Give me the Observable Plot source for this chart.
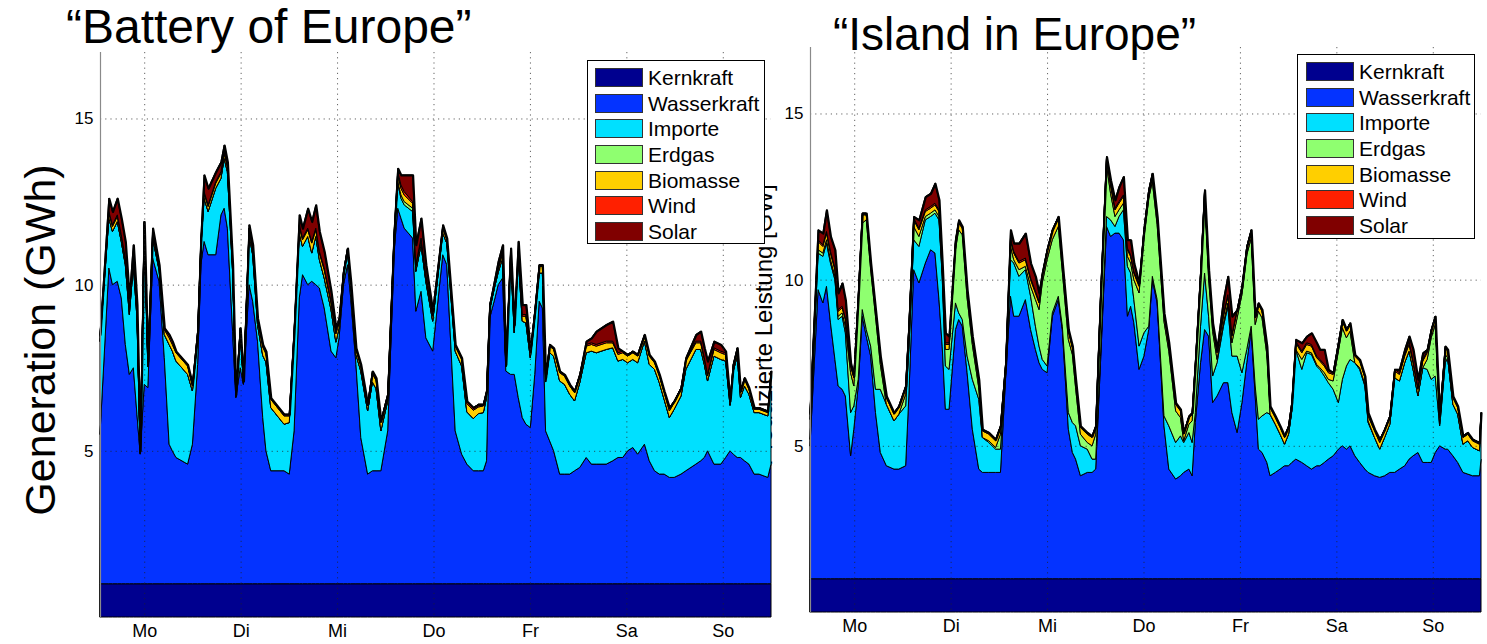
<!DOCTYPE html>
<html><head><meta charset="utf-8">
<script src="https://cdn.jsdelivr.net/npm/d3@7"></script>
<script src="https://cdn.jsdelivr.net/npm/@observablehq/plot@0.6"></script>
<style>
body{margin:0;background:#fff;font-family:"Liberation Sans",Arial,Helvetica,sans-serif;color:#000;}
#root{position:relative;width:1487px;height:644px;overflow:hidden;background:#fff;}
.abs{position:absolute;}
.title{white-space:nowrap;z-index:3;}
.rot{white-space:nowrap;transform:translate(-50%,-50%) rotate(-90deg);}
.legend{border:1px solid #000;background:#fff;box-sizing:border-box;z-index:3;padding-top:4px;}
.row{display:flex;align-items:center;height:25.6px;}
.sw{width:48px;height:19px;border:1px solid #333;box-sizing:border-box;}
.lt{font-size:21px;margin-left:5px;line-height:21px;}
</style></head>
<body><div id="root"></div>
<script>
// ---------- shared ----------
const seriesNames = ["Kernkraft","Wasserkraft","Importe","Erdgas","Biomasse","Wind","Solar"];
const seriesColors = ["#00008f","#0433ff","#00e0ff","#8fff70","#ffcf00","#ff2000","#800000"];
const dayTicks = [12,36,60,84,108,132,156];
const dayLabels = ["Mo","Di","Mi","Do","Fr","Sa","So"];
const yTicks = [5,10,15];
const titles = ["\u201cBattery of Europe\u201d","\u201cIsland in Europe\u201d"];
const yLabel = "Generation (GWh)";
const hiddenYLabel = "Produzierte Leistung [GW]";

// ---------- left panel: "Battery of Europe" ----------
const hoursL = [
1,3.2,4.1,5.3,6.3,7.3,8.3,9.3,10.2,11.0,
12.0,12.9,14.1,15.7,17.0,18.2,19.0,19.9,22.8,24.0,
25.3,26.1,26.9,27.9,29.8,31.1,31.9,32.7,34.0,34.8,
35.9,36.7,38.1,39.0,40.2,41.5,42.3,43.5,46.8,48.1,
49.3,50.6,51.4,52.7,53.7,54.7,55.6,56.8,58.5,59.7,
60.5,61.6,62.6,63.4,64.7,65.9,67.6,68.8,69.7,70.9,
72.6,74.2,75.1,75.9,76.7,78.8,79.6,80.9,82.1,83.8,
86.3,87.3,89.4,91.0,92.3,93.9,95.2,96.4,97.2,98.0,
99.3,100.1,101.2,102.0,103.2,104.1,105.1,106.1,107.0,108.1,
109.2,110.3,111.1,111.9,112.9,113.9,115.4,116.6,117.9,119.1,
120.4,122.0,123.3,124.5,127.0,128.6,129.9,131.1,132.3,133.6,
134.8,136.5,137.7,139.0,140.2,141.4,142.7,143.9,145.6,146.8,
149.3,150.5,151.4,152.2,153.8,155.5,156.7,157.8,158.6,159.6,
160.4,161.4,162.5,163.8,165.0,167.2,168];
const kernL = [
1,1,1,1,1,1,1,1,1,1, 1,1,1,1,1,1,1,1,1,1, 1,1,1,1,1,1,1,1,1,1,
1,1,1,1,1,1,1,1,1,1, 1,1,1,1,1,1,1,1,1,1, 1,1,1,1,1,1,1,1,1,1,
1,1,1,1,1,1,1,1,1,1, 1,1,1,1,1,1,1,1,1,1, 1,1,1,1,1,1,1,1,1,1,
1,1,1,1,1,1,1,1,1,1, 1,1,1,1,1,1,1,1,1,1, 1,1,1,1,1,1,1,1,1,1,
1,1,1,1,1,1,1,1,1,1, 1,1,1,1,1,1,1];
const wasserL = [
4.5,9.5,9.0,9.1,8.6,7.2,6.3,6.5,5.1,3.9,
6.0,5.9,9.8,9.1,6.8,4.2,4.0,3.8,3.6,4.2,
6.6,9.6,10.3,9.9,9.9,11.1,11.3,10.7,7.6,5.6,
6.5,6.0,9.0,8.5,7.3,5.0,4.0,3.4,3.4,3.3,
4.6,8.6,9.3,9.0,9.1,9.0,8.9,8.3,7.0,6.8,
7.4,9.0,9.6,8.6,6.6,4.4,3.3,3.4,3.4,3.4,
4.6,10.0,11.3,11.0,10.7,10.4,8.2,8.8,7.4,7.0,
9.9,9.6,4.6,3.9,3.6,3.4,3.4,3.4,3.7,8.0,
8.6,9.0,9.2,6.4,6.3,6.3,5.6,5.0,4.8,4.7,
6.3,8.5,8.3,4.6,4.3,4.0,3.3,3.3,3.3,3.4,
3.5,3.8,3.6,3.6,3.6,3.7,3.8,3.8,4.0,4.1,
3.9,4.2,3.7,3.4,3.3,3.3,3.2,3.2,3.3,3.4,
3.6,3.7,3.8,4.0,3.6,3.6,3.8,4.0,3.9,3.8,
3.8,3.7,3.6,3.3,3.3,3.2,3.6];
const importeL = [
2.8,1.5,1.6,1.8,1.7,2.4,1.8,3.1,2.9,0.03,
4.7,0.63,0.6,0.35,0.7,3.0,3.0,2.9,2.7,1.6,
0.8,0.5,1.3,1.3,2.0,1.1,1.5,1.7,1.8,0.03,
1.05,0.03,1.5,1.4,0.5,1.87,2.67,1.9,1.4,1.55,
2.8,1.95,0.85,1.45,0.85,1.45,0.85,0.9,1.25,0.47,
0.3,0.27,0.37,0.37,0.3,2.0,1.9,2.67,2.47,1.2,
0.9,0.35,0.75,0.6,0.7,0.8,1.2,1.4,1.7,0.9,
0.65,0.65,2.4,2.65,1.57,1.57,1.72,1.75,1.9,0.27,
0.37,0.37,0.6,0.13,3.5,1.25,4.2,2.9,3.05,2.1,
1.7,0.85,1.05,1.47,2.65,2.85,2.8,2.7,2.4,2.1,
2.55,3.15,3.4,3.35,3.45,3.4,2.9,2.95,2.65,2.65,
2.75,3.1,2.9,3.05,2.75,2.25,1.8,2.05,2.35,3.05,
3.45,3.35,2.8,2.1,3.25,3.15,2.9,1.37,2.5,3.05,
1.8,2.25,2.1,1.85,1.85,1.85,2.65];
const erdgasL = [
0,0,0,0,0,0,0,0,0,0, 0,0,0,0,0,0,0,0,0,0, 0,0,0,0,0,0,0,0,0,0,
0,0,0,0,0,0,0,0,0,0, 0,0,0,0,0,0,0,0,0,0, 0,0,0,0,0,0,0,0,0,0,
0,0,0.05,0.1,0.1,0.1,0,0,0,0,
0,0,0,0,0,0,0,0,0,0, 0,0,0,0,0,0,0,0,0,0, 0,0,0,0,0,0,0,0,0,0,
0,0,0,0,0,0,0,0,0,0, 0,0,0,0,0,0,0,0,0,0, 0,0,0,0,0,0,0,0,0,0,
0,0,0,0,0,0,0];
const biomasseL = [
0.15,0.15,0.15,0.15,0.15,0.15,0.15,0.15,0.15,0.05,
0.15,0.12,0.15,0.12,0.15,0.2,0.2,0.25,0.25,0.15,
0.15,0.15,0.15,0.15,0.15,0.15,0.15,0.15,0.15,0.05,
0.1,0.05,0.15,0.15,0.15,0.25,0.25,0.25,0.25,0.2,
0.15,0.2,0.2,0.2,0.3,0.2,0.2,0.25,0.2,0.25,
0.15,0.1,0.1,0.1,0.15,0.15,0.15,0.25,0.25,0.25,
0.15,0.15,0.2,0.2,0.2,0.15,0.15,0.15,0.15,0.15,
0.15,0.1,0.15,0.2,0.25,0.25,0.2,0.2,0.15,0.1,
0.1,0.1,0.15,0.05,0.15,0.15,0.15,0.15,0.2,0.15,
0.15,0.2,0.2,0.1,0.2,0.2,0.25,0.25,0.25,0.25,
0.2,0.2,0.2,0.2,0.2,0.15,0.2,0.2,0.2,0.2,
0.2,0.15,0.25,0.2,0.2,0.2,0.2,0.2,0.2,0.25,
0.2,0.2,0.15,0.15,0.2,0.2,0.2,0.1,0.15,0.2,
0.15,0.2,0.15,0.1,0.1,0.1,0.1];
const windL = [
0.05,0.05,0.05,0.05,0.05,0.05,0.05,0.05,0.05,0.02,
0.05,0.05,0.05,0.03,0.05,0.1,0.1,0.05,0.05,0.05,
0.05,0.05,0.05,0.05,0.05,0.05,0.05,0.05,0.05,0.02,
0.05,0.02,0.05,0.05,0.05,0.08,0.08,0.05,0.05,0.05,
0.05,0.05,0.05,0.05,0.05,0.05,0.05,0.05,0.05,0.08,
0.05,0.03,0.03,0.03,0.05,0.05,0.05,0.08,0.08,0.05,
0.05,0.05,0.1,0.1,0.1,0.05,0.05,0.05,0.05,0.05,
0.05,0.05,0.05,0.05,0.08,0.08,0.08,0.05,0.05,0.03,
0.03,0.03,0.05,0.02,0.05,0.05,0.05,0.05,0.05,0.05,
0.05,0.05,0.05,0.03,0.05,0.05,0.05,0.05,0.05,0.05,
0.05,0.05,0.05,0.05,0.05,0.05,0.05,0.05,0.05,0.05,
0.05,0.05,0.05,0.05,0.05,0.05,0.1,0.05,0.05,0.05,
0.05,0.05,0.05,0.05,0.05,0.05,0.05,0.03,0.05,0.05,
0.05,0.05,0.05,0.05,0.05,0.05,0.05];
const solarL = [
0,0.4,0.4,0.5,0.5,0.5,0.3,0.4,0.2,0,
0,0,0.1,0,0,0,0,0,0,0,
0,0.1,0.5,0.5,0.3,0.3,0.2,0.1,0,0,
0,0,0.1,0.1,0,0,0,0,0,0,
0,0.3,0.3,0.6,0.6,0.7,0.6,0.5,0.3,0.1,
0.1,0,0,0,0,0,0,0,0,0,
0,0.05,0.1,0.3,0.5,0.8,0.6,0.6,0.3,0.1,
0.05,0,0,0,0,0,0,0,0,0,
0.1,0.2,0.2,0,0.1,0.05,0.3,0.3,0.3,0,
0,0,0,0,0,0,0,0,0,0,
0,0.1,0.15,0.4,0.5,0.6,0.15,0,0,0,
0,0,0,0,0,0,0,0,0,0.05,
0.2,0.3,0.3,0.4,0.2,0.2,0.05,0,0,0,
0,0,0,0,0,0,0];

// ---------- right panel: "Island in Europe" ----------
const hoursR = [
1,3.0,4.2,5.1,6.1,7.2,8.0,9.0,9.8,11.1,
11.9,13.0,14.0,15.0,16.1,17.3,18.5,20.0,21.9,23.1,
24.8,25.6,26.8,28.1,29.7,31.0,32.1,33.1,33.9,34.7,
35.6,37.2,38.0,38.9,40.1,41.4,43.0,43.9,45.5,47.2,
48.4,49.7,50.9,51.7,53.0,54.6,55.9,57.1,58.0,58.8,
60.0,61.3,62.8,63.8,65.3,66.3,67.1,68.3,70.0,71.2,
72.1,73.3,74.8,75.8,76.9,77.9,79.0,80.0,80.8,81.6,
82.9,84.1,85.3,86.2,87.4,89.1,90.3,92.0,93.2,94.0,
95.3,96.1,96.9,98.2,99.2,100.2,101.2,102.3,103.9,105.0,
106.0,107.3,108.5,109.7,110.8,111.8,112.6,113.5,114.7,115.5,
116.8,118.0,119.1,120.1,120.9,121.9,123.4,124.6,125.8,127.1,
127.9,129.0,130.0,131.2,132.5,133.5,134.5,135.4,136.6,137.8,
139.1,139.9,141.5,142.8,144.0,145.3,146.5,147.7,149.0,150.1,
151.1,152.3,153.5,154.6,155.6,156.6,157.7,159.1,159.7,161.0,
162.2,163.5,164.7,165.9,167.6,168];
const kernR = [
1,1,1,1,1,1,1,1,1,1, 1,1,1,1,1,1,1,1,1,1, 1,1,1,1,1,1,1,1,1,1,
1,1,1,1,1,1,1,1,1,1, 1,1,1,1,1,1,1,1,1,1, 1,1,1,1,1,1,1,1,1,1,
1,1,1,1,1,1,1,1,1,1, 1,1,1,1,1,1,1,1,1,1, 1,1,1,1,1,1,1,1,1,1,
1,1,1,1,1,1,1,1,1,1, 1,1,1,1,1,1,1,1,1,1, 1,1,1,1,1,1,1,1,1,1,
1,1,1,1,1,1,1,1,1,1, 1,1,1,1,1,1,1,1,1,1, 1,1,1,1,1,1];
const wasserR = [
4.0,8.7,8.3,8.8,7.7,6.6,5.8,5.7,5.5,3.7,
4.5,5.8,7.9,7.3,6.7,5.0,3.8,3.4,3.3,3.3,
3.4,5.5,9.3,8.9,9.5,9.9,9.8,8.4,7.0,5.1,
5.1,7.5,7.8,7.6,6.2,4.5,3.3,3.2,3.2,3.2,
3.2,6.1,8.5,7.9,7.9,8.4,7.5,6.9,6.5,6.3,
6.2,7.9,8.4,7.5,4.5,3.8,3.6,3.1,3.2,3.2,
3.3,6.5,10.6,10.3,10.4,10.4,10.2,7.9,8.2,7.7,
6.3,6.7,7.5,9.0,8.3,4.6,3.3,3.0,3.1,3.2,
3.3,3.1,4.7,6.5,7.5,7.3,5.3,5.5,5.9,5.9,
5.0,4.4,5.3,6.5,7.5,5.5,3.9,3.8,3.5,3.1,
3.2,3.3,3.4,3.4,3.5,3.6,3.5,3.4,3.3,3.4,
3.4,3.5,3.6,3.7,3.9,4.0,3.9,4.0,3.7,3.5,
3.3,3.2,3.1,3.05,3.1,3.2,3.2,3.3,3.4,3.6,
3.7,3.8,3.5,3.5,3.5,3.8,4.0,3.9,3.9,3.7,
3.5,3.2,3.15,3.1,3.1,3.6];
const importeR = [
0.2,1.1,1.4,1.3,1.8,2.4,2.0,2.2,1.9,1.3,
0.7,0.2,0.2,0.2,0.3,0.7,1.9,1.85,1.45,1.65,
1.8,1.4,0.9,1.1,1.3,1.0,1.2,2.4,2.1,1.3,
1.2,0.8,0.2,0.2,0.5,1.5,2.1,1.05,0.9,0.7,
0.7,0.1,1.1,1.6,1.2,0.9,1.0,0.7,0.5,0.3,
0.2,0.1,0.1,0.1,0.5,0.9,1.0,0.9,0.7,0.4,
0.3,0.2,0.3,0.5,0.2,0.5,0.9,1.5,1.0,0.7,
0.7,0.7,0.1,0.1,0.1,0.3,1.3,1.1,1.2,0.9,
1.1,1.0,0.3,1.1,1.7,0.6,0.8,1.0,1.7,2.3,
1.7,2.3,0.9,0.4,0.1,0.3,0.9,1.1,1.5,1.85,
1.45,1.05,0.65,0.95,1.55,3.3,2.8,3.4,3.45,3.0,
2.9,2.6,2.3,2.0,1.4,2.0,2.5,2.6,2.8,2.8,
2.5,1.5,1.15,0.85,1.15,1.45,2.85,2.65,3.1,3.25,
2.6,1.7,2.85,2.8,2.5,2.3,0.6,2.6,2.75,1.55,
1.45,0.85,1.0,0.85,0.75,1.15];
const erdgasR = [
0.6,0.1,0.1,0.1,0.1,0.1,0.1,0.1,0.2,1.2,
0.6,2.3,2.6,3.3,2.3,2.2,0.75,0,0,0,
0.35,0.45,0.4,0.3,0.1,0.1,0.1,0.1,0.1,0.5,
0.6,1.6,2.5,2.55,1.75,1.05,0.35,0,0.05,0.05,
0.45,0.1,0.4,0.1,0.2,0.1,0.3,0.8,1.1,2.3,
3.2,2.2,2.1,1.65,2.2,2.05,1.15,0.35,0.2,0.4,
0.75,1.55,1.55,0.8,0.3,0.2,0.2,0.3,0.3,0.6,
1.6,2.85,3.85,2.85,2.25,2.85,2.25,0.95,0.55,0.05,
0.25,0.65,1.25,1.35,2.25,1.15,1.35,0.1,0.1,0.1,
0.4,1.15,2.35,2.85,2.65,1.85,3.25,2.95,1.75,0,
0,0,0,0,0,0,0.3,0.05,0.05,0.05,
0.05,0.1,0.1,0.25,1.55,1.55,0.85,0.85,0,0.05,
0.05,0.05,0,0,0,0,0,0,0,0,
0,0,0,0.3,1.25,1.55,0.05,0.25,0,0,
0,0,0,0,0,0];
const biomasseR = [
0.15,0.25,0.2,0.2,0.2,0.2,0.15,0.15,0.2,0.2,
0.25,0.15,0.25,0.15,0.15,0.15,0.2,0.2,0.2,0.2,
0.2,0.2,0.2,0.2,0.15,0.15,0.15,0.15,0.2,0.15,
0.15,0.2,0.2,0.2,0.2,0.2,0.2,0.2,0.2,0.2,
0.2,0.15,0.2,0.2,0.2,0.2,0.2,0.2,0.2,0.2,
0.25,0.25,0.25,0.2,0.25,0.2,0.2,0.2,0.25,0.25,
0.2,0.2,0.2,0.25,0.2,0.2,0.2,0.2,0.2,0.2,
0.2,0.2,0.2,0.2,0.2,0.2,0.2,0.2,0.2,0.2,
0.2,0.2,0.2,0.2,0.2,0.2,0.2,0.2,0.2,0.2,
0.2,0.2,0.2,0.2,0.2,0.2,0.2,0.2,0.2,0.2,
0.2,0.2,0.2,0.2,0.2,0.2,0.2,0.2,0.2,0.2,
0.2,0.2,0.2,0.2,0.2,0.2,0.2,0.2,0.2,0.2,
0.2,0.15,0.2,0.2,0.2,0.2,0.2,0.2,0.2,0.2,
0.2,0.2,0.2,0.2,0.2,0.2,0.2,0.2,0.2,0.2,
0.2,0.2,0.2,0.2,0.2,0.2];
const windR = [
0.05,0.05,0.05,0.05,0.05,0.05,0.05,0.05,0.05,0.05,
0.05,0.05,0.05,0.05,0.05,0.05,0.05,0.05,0.05,0.05,
0.05,0.05,0.05,0.05,0.05,0.05,0.05,0.05,0.05,0.05,
0.05,0.05,0.05,0.05,0.05,0.05,0.05,0.05,0.05,0.05,
0.05,0.05,0.05,0.05,0.05,0.05,0.05,0.05,0.05,0.05,
0.05,0.05,0.05,0.05,0.05,0.05,0.05,0.05,0.05,0.05,
0.05,0.05,0.05,0.05,0.05,0.05,0.05,0.05,0.05,0.05,
0.05,0.05,0.05,0.05,0.05,0.05,0.05,0.05,0.05,0.05,
0.05,0.05,0.05,0.05,0.05,0.05,0.05,0.05,0.05,0.05,
0.05,0.05,0.05,0.05,0.05,0.05,0.05,0.05,0.05,0.05,
0.05,0.05,0.05,0.05,0.05,0.05,0.05,0.05,0.05,0.05,
0.05,0.05,0.05,0.05,0.05,0.05,0.05,0.05,0.05,0.05,
0.05,0.1,0.05,0.1,0.05,0.05,0.05,0.05,0.05,0.1,
0.05,0.05,0.05,0.05,0.05,0.05,0.05,0.05,0.05,0.05,
0.05,0.05,0.05,0.05,0.05,0.05];
const solarR = [
0,0.3,0.35,0.65,0.45,0.55,0.5,0.7,0.55,0.05,
0,0,0,0,0,0,0,0,0,0,
0,0,0.05,0.25,0.4,0.4,0.6,0.3,0.05,0.3,
0.2,0.05,0.05,0,0,0,0,0,0,0,
0,0,0.25,0.25,0.55,0.75,0.45,0.45,0.25,0.05,
0,0,0,0,0,0,0,0,0,0,
0,0,0,0.1,0.25,0.45,0.55,0.25,0.45,0.25,
0.05,0,0,0,0,0,0,0,0,0,
0,0,0,0,0,0,0,0.05,0.45,0.55,
0.55,0,0,0,0,0,0,0,0,0,
0,0,0,0,0,0.05,0.25,0.2,0.35,0.4,
0.3,0.45,0.05,0,0,0,0,0,0,0,
0,0,0,0,0,0,0,0.1,0.15,0.15,
0.35,0.25,0.2,0.05,0,0,0,0,0,0,
0,0,0,0,0,0];

// ---------- build ----------
const root = document.getElementById("root");

function tidy(hours, cols) {
  const out = [];
  seriesNames.forEach((name, k) => {
    hours.forEach((h, i) => out.push({h, name, v: cols[k][i]}));
  });
  return out;
}

function panel(hours, cols, dims) {
  const data = tidy(hours, cols);
  const svg = Plot.plot({
    width: dims.width, height: 644,
    marginLeft: dims.ml, marginRight: dims.mr, marginTop: dims.mt, marginBottom: dims.mb,
    style: {background: "transparent", fontFamily: '"Liberation Sans", Arial, Helvetica, sans-serif', color: "#000", overflow: "visible"},
    x: {domain: [hours[0], hours[hours.length - 1]], label: null},
    y: {domain: [0, 17], label: null, nice: false},
    color: {domain: seriesNames, range: seriesColors},
    marks: [
      Plot.areaY(data, {x: "h", y: "v", z: "name", fill: "name", order: seriesNames,
        stroke: "#000", strokeWidth: 1, strokeLinejoin: "round"}),
      // thick outline along the total
      Plot.lineY(data, Plot.groupX({y: "sum"}, {x: "h", y: "v", stroke: "#000", strokeWidth: 2.2, strokeLinejoin: "round"})),
      Plot.gridX(dayTicks, {stroke: "#222", strokeOpacity: 0.7, strokeDasharray: "1.2,4"}),
      Plot.gridY(yTicks, {stroke: "#222", strokeOpacity: 0.7, strokeDasharray: "1.2,4"}),
      Plot.ruleX([hours[0]], {stroke: "#8a8a8a", strokeWidth: 1.2}),
      Plot.axisX(dayTicks, {tickSize: 0, tickPadding: 7, fontSize: 18, label: null,
        tickFormat: d => dayLabels[dayTicks.indexOf(d)]}),
      Plot.axisY(yTicks, {tickSize: 0, tickPadding: 7, fontSize: 17, label: null})
    ]
  });
  svg.style.position = "absolute";
  svg.style.left = dims.left + "px";
  svg.style.top = "0px";
  svg.style.zIndex = 1;
  svg.style.maxWidth = "none";
  return svg;
}

// hidden (partly covered) y label of the right panel, under the left chart
const hid = document.createElement("div");
hid.className = "abs rot";
hid.style.cssText += "left:764px;top:325px;font-size:24px;line-height:24px;z-index:0;";
hid.textContent = hiddenYLabel;
root.appendChild(hid);

root.appendChild(panel(hoursL,
  [kernL, wasserL, importeL, erdgasL, biomasseL, windL, solarL],
  {width: 780, left: 0, ml: 100, mr: 9, mt: 52, mb: 27}));
root.appendChild(panel(hoursR,
  [kernR, wasserR, importeR, erdgasR, biomasseR, windR, solarR],
  {width: 727, left: 760, ml: 50, mr: 6, mt: 47, mb: 32}));

// titles
[[titles[0], 66, 3, 48], [titles[1], 833, 11, 46]].forEach(([t, x, y, fs]) => {
  const d = document.createElement("div");
  d.className = "abs title";
  d.style.left = x + "px"; d.style.top = y + "px";
  d.style.fontSize = fs + "px"; d.style.lineHeight = fs + "px";
  d.textContent = t;
  root.appendChild(d);
});

// y label
const yl = document.createElement("div");
yl.className = "abs rot";
yl.style.cssText += "left:40px;top:340px;font-size:43px;line-height:43px;z-index:3;";
yl.textContent = yLabel;
root.appendChild(yl);

// legends
function legend(x, y, w, h, pad) {
  const box = document.createElement("div");
  box.className = "abs legend";
  box.style.left = x + "px"; box.style.top = y + "px";
  box.style.width = w + "px"; box.style.height = h + "px";
  seriesNames.forEach((name, i) => {
    const row = document.createElement("div");
    row.className = "row";
    const sw = document.createElement("div");
    sw.className = "sw";
    sw.style.marginLeft = pad + "px";
    sw.style.background = seriesColors[i];
    const lt = document.createElement("div");
    lt.className = "lt";
    lt.textContent = name;
    row.appendChild(sw); row.appendChild(lt);
    box.appendChild(row);
  });
  root.appendChild(box);
}
legend(587, 60, 178, 184, 7);
legend(1297, 54, 178, 185, 8);
</script>
</body></html>
